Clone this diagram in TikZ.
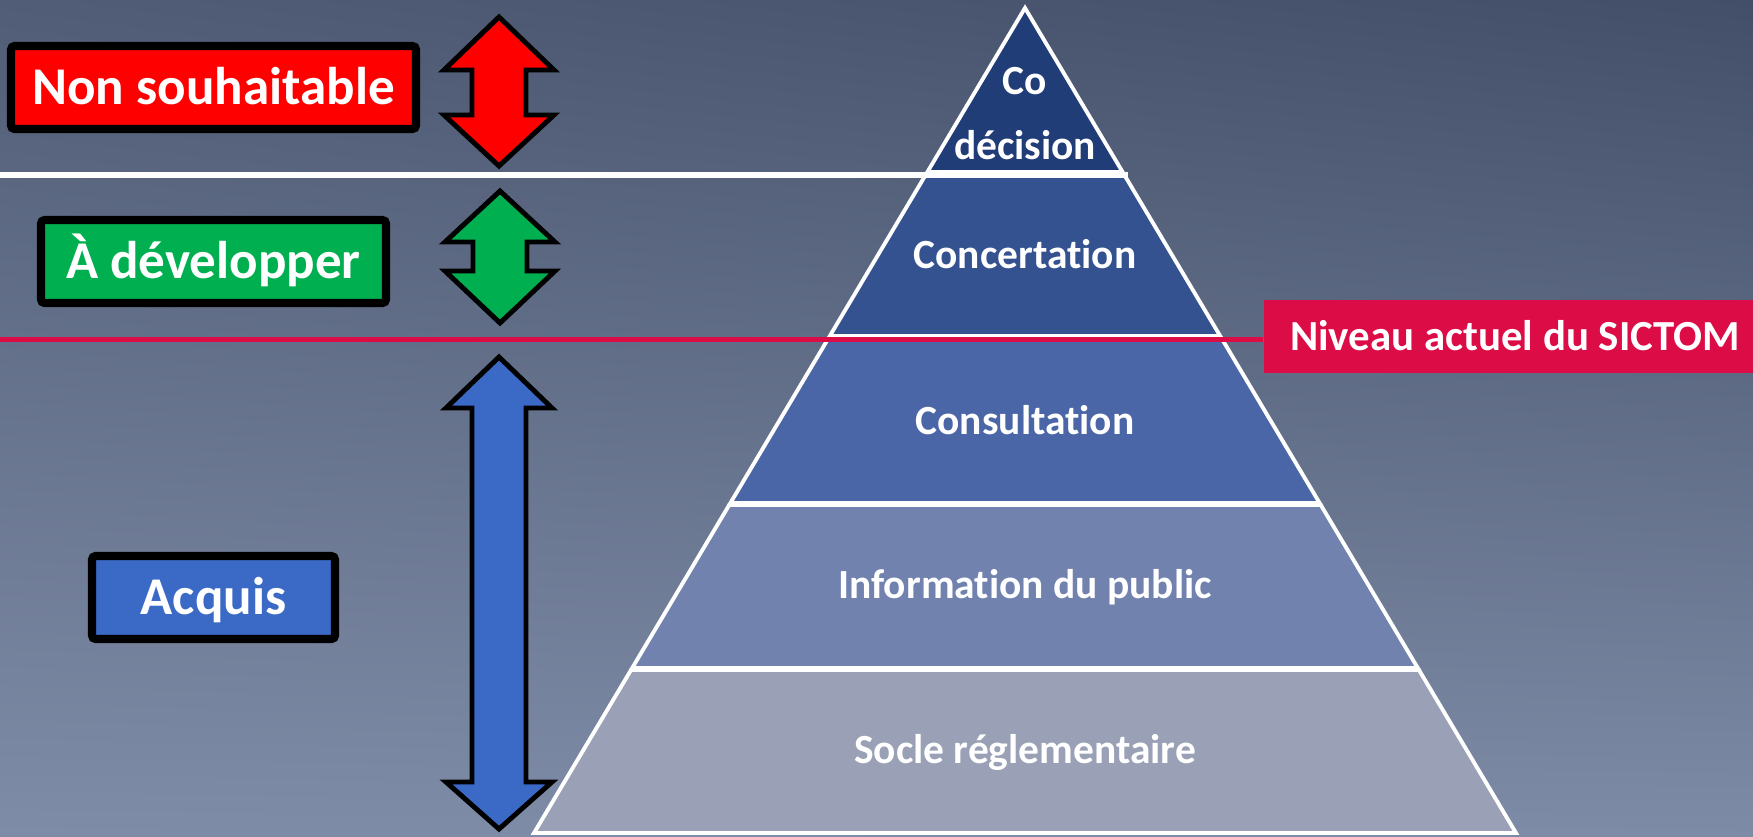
\documentclass[tikz,border=0pt]{standalone}
\usepackage{fontspec}
\setmainfont{Carlito}[Ligatures=NoCommon]
\usepackage{tikz}
\usetikzlibrary{shadings}

\definecolor{bgtl}{HTML}{515D76}
\definecolor{bgtr}{HTML}{434F68}
\definecolor{bgbl}{HTML}{7F8CA7}
\definecolor{bgbr}{HTML}{7E8BA6}
\definecolor{nsred}{HTML}{FF0000}
\definecolor{devgreen}{HTML}{00AF50}
\definecolor{acqblue}{HTML}{3A69C6}
\definecolor{sictomred}{HTML}{DC0C46}
\definecolor{codec}{HTML}{213D78}
\definecolor{concert}{HTML}{34528F}
\definecolor{consult}{HTML}{4B66A6}
\definecolor{inform}{HTML}{7182AE}
\definecolor{socle}{HTML}{9AA0B6}

\begin{document}
\begin{tikzpicture}[x=0.1mm,y=-0.1mm,
    levelbox/.style={draw=black,line width=2.3pt,rounded corners=1pt,text=white,
      font=\fontsize{15.1}{18}\selectfont\bfseries,text height=9.7pt,text depth=0pt,
      minimum height=8.3mm,inner sep=0pt},
    dblarrow/.style={draw=black,line width=1.4pt,miter limit=10},
    layer/.style={draw=white,line width=1.1pt},
    layertext/.style={text=white,font=\fontsize{11.8}{18.5}\selectfont\bfseries,
      inner sep=0pt,align=center}]
      \useasboundingbox (0,0) rectangle (1753,836);
      \shade[upper left=bgtl,upper right=bgtr,lower left=bgbl,lower right=bgbr]
        (0,0) rectangle (1753,836);
      % pyramid
      \filldraw[layer,fill=codec] (1025,8) -- (1122.6,172) -- (927.4,172) -- cycle;
      \filldraw[layer,fill=concert] (925.6,175) -- (1124.4,175) -- (1220.2,336) -- (829.8,336) -- cycle;
      \filldraw[layer,fill=consult] (828,339) -- (1222,339) -- (1319.6,503) -- (730.4,503) -- cycle;
      \filldraw[layer,fill=inform] (729.2,505) -- (1320.8,505) -- (1417.8,668) -- (632.2,668) -- cycle;
      \filldraw[layer,fill=socle] (631,670) -- (1419,670) -- (1516,833) -- (534,833) -- cycle;
      \node[layertext] (codecision) at (1025,114) {Co\\décision};
      \node[layertext,anchor=base] (concertation) at (1025,268) {Concertation};
      \node[layertext,anchor=base] (consultation) at (1025,434) {Consultation};
      \node[layertext,anchor=base] (information) at (1025,598) {Information du public};
      \node[layertext,anchor=base] (reglement) at (1025,763) {Socle réglementaire};
      % separating lines
      \coordinate (limtop) at (0,175);
      \coordinate (limnow) at (0,339.5);
      \node[fill=sictomred,text=white,font=\fontsize{12.2}{15}\selectfont\bfseries,
        text height=7.9pt,text depth=0pt,inner sep=0pt,minimum width=50.2mm,
        minimum height=7.3mm] (sictom) at (1515,336.5) {Niveau actuel du SICTOM};
      \draw[white,line width=1.7pt] (limtop) -- (1128,175);
      \draw[sictomred,line width=1.7pt] (limnow) -- (limnow -| sictom.west);
      % left boxes
      \node[levelbox,fill=nsred,minimum width=40.5mm] (nonsouh) at (213.5,87.5) {Non souhaitable};
      \node[levelbox,fill=devgreen,minimum width=34.5mm] (adev) at (213.5,261.5) {À développer};
      \node[levelbox,fill=acqblue,minimum width=24.3mm] (acquis) at (213.5,597.5) {Acquis};
      % double arrows
      \draw[dblarrow,fill=nsred] (499,17) -- (554,70) -- (526,70) -- (526,115) -- (554,115)
        -- (499,166) -- (444,115) -- (472,115) -- (472,70) -- (444,70) -- cycle;
      \draw[dblarrow,fill=devgreen] (500,191) -- (555,242) -- (527,242) -- (527,271) -- (555,271)
        -- (500,323) -- (445,271) -- (473,271) -- (473,242) -- (445,242) -- cycle;
      \draw[dblarrow,fill=acqblue] (499,357) -- (552,408) -- (526,408) -- (526,782) -- (552,782)
        -- (499,829) -- (446,782) -- (472,782) -- (472,408) -- (446,408) -- cycle;
    \end{tikzpicture}
\end{document}
